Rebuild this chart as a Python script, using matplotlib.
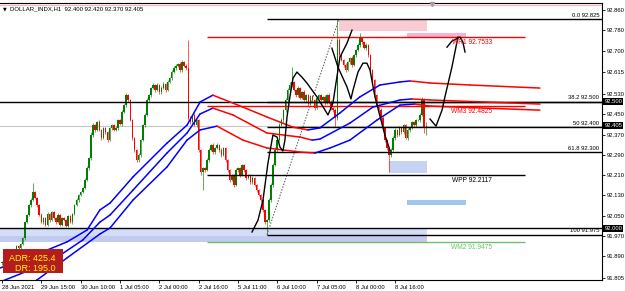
import matplotlib.pyplot as plt
import matplotlib.transforms as mtransforms
from matplotlib.patches import Rectangle

plt.rcParams['font.family'] = ['Liberation Sans', 'DejaVu Sans']

# --- H1 candles, bar 0 = 28 Jun 2021 ---
first_open = 91.862
closes = [
    91.868, 91.884, 91.876, 91.896, 91.907, 91.915, 91.907, 91.931, 91.923, 91.939,
    91.962, 92.025, 92.053, 92.092, 92.112, 92.144, 92.120, 92.092, 92.053, 92.025,
    92.041, 92.014, 92.057, 92.033, 92.065, 92.041, 92.025, 92.053, 92.014, 92.041,
    92.033, 92.010, 92.049, 92.025, 92.057, 92.092, 92.112, 92.132, 92.144, 92.159,
    92.191, 92.238, 92.277, 92.368, 92.407, 92.388, 92.419, 92.388, 92.356, 92.395,
    92.380, 92.348, 92.395, 92.407, 92.388, 92.395, 92.427, 92.411, 92.458, 92.486,
    92.525, 92.506, 92.427, 92.356, 92.309, 92.269, 92.289, 92.348, 92.407, 92.447,
    92.506, 92.525, 92.553, 92.565, 92.545, 92.565, 92.537, 92.553, 92.569, 92.545,
    92.577, 92.592, 92.616, 92.632, 92.640, 92.647, 92.624, 92.655, 92.640, 92.632,
    92.435, 92.419, 92.447, 92.407, 92.427, 92.309, 92.222, 92.238, 92.230, 92.269,
    92.309, 92.329, 92.301, 92.317, 92.329, 92.309, 92.289, 92.317, 92.269, 92.230,
    92.191, 92.210, 92.171, 92.230, 92.238, 92.210, 92.250, 92.230, 92.199, 92.210,
    92.183, 92.199, 92.171, 92.151, 92.132, 92.112, 92.073, 92.025, 92.033, 92.112,
    92.171, 92.250, 92.309, 92.348, 92.407, 92.427, 92.466, 92.506, 92.545, 92.565,
    92.577, 92.545, 92.525, 92.553, 92.514, 92.537, 92.506, 92.525, 92.490, 92.521,
    92.506, 92.474, 92.514, 92.525, 92.506, 92.518, 92.494, 92.525, 92.498, 92.474,
    92.466, 92.435, 92.742, 92.683, 92.663, 92.643, 92.624, 92.655, 92.671, 92.643,
    92.683, 92.703, 92.722, 92.750, 92.734, 92.710, 92.722, 92.683, 92.624, 92.584,
    92.525, 92.486, 92.466, 92.435, 92.395, 92.348, 92.317, 92.289, 92.309, 92.356,
    92.388, 92.368, 92.395, 92.380, 92.407, 92.356, 92.388, 92.395, 92.419, 92.407,
    92.427, 92.427, 92.447, 92.506, 92.400, 92.405,
]
# wick lengths above / below the body, in 0.001
wick_up = [
    4, 3, 5, 2, 4, 3, 6, 3, 4, 5,   6, 4, 5, 3, 8, 34, 5, 4, 3, 6,
    5, 4, 6, 3, 5, 4, 3, 6, 4, 5,   4, 6, 3, 5, 4, 5, 6, 4, 5, 6,
    6, 8, 5, 10, 8, 6, 5, 7, 4, 6,  5, 4, 6, 5, 4, 7, 5, 6, 8, 6,
    10, 6, 5, 4, 6, 5, 8, 6, 5, 7,  8, 6, 5, 7, 4, 6, 5, 7, 6, 5,
    6, 5, 7, 8, 6, 5, 7, 8, 6, 6,   110, 6, 5, 8, 6, 5, 4, 6, 5, 7,
    6, 5, 7, 4, 6, 5, 6, 4, 5, 6,   5, 6, 4, 7, 5, 6, 5, 4, 6, 5,
    4, 6, 5, 4, 6, 5, 4, 5, 6, 8,   8, 6, 10, 6, 7, 8, 6, 9, 8, 12,
    59, 5, 6, 8, 5, 6, 7, 5, 6, 5,  6, 5, 7, 5, 6, 4, 6, 5, 7, 6,
    6, 7, 83, 8, 6, 5, 7, 6, 5, 8,  6, 5, 7, 19, 6, 5, 8, 6, 5, 6,
    5, 6, 5, 7, 6, 5, 6, 4, 6, 7,   6, 5, 7, 5, 6, 5, 7, 6, 5, 6,
    6, 5, 8, 11, 6, 15,
]
wick_dn = [
    4, 5, 3, 6, 4, 5, 3, 5, 4, 6,   5, 6, 4, 5, 6, 4, 5, 6, 5, 4,
    6, 5, 4, 6, 5, 4, 6, 5, 4, 5,   5, 4, 6, 5, 7, 5, 4, 6, 5, 4,
    5, 6, 8, 6, 7, 8, 5, 6, 7, 5,   6, 8, 5, 6, 5, 6, 7, 5, 6, 5,
    6, 7, 5, 8, 6, 9, 7, 6, 5, 7,   5, 6, 7, 5, 6, 5, 7, 6, 5, 6,
    5, 6, 7, 5, 6, 5, 6, 7, 5, 6,   8, 6, 7, 5, 6, 8, 10, 71, 7, 5,
    6, 5, 7, 6, 5, 6, 7, 5, 6, 8,   7, 6, 8, 5, 6, 7, 5, 6, 8, 6,
    6, 7, 5, 8, 6, 7, 9, 8, 50, 7,  6, 7, 5, 6, 8, 5, 6, 7, 6, 5,
    6, 5, 7, 6, 5, 6, 5, 7, 6, 5,   6, 7, 5, 6, 5, 6, 7, 5, 6, 8,
    7, 36, 8, 6, 5, 7, 6, 5, 6, 7,  5, 6, 5, 7, 6, 5, 6, 7, 6, 8,
    7, 6, 8, 7, 6, 8, 7, 67, 6, 5,  6, 7, 5, 6, 8, 5, 6, 7, 5, 6,
    6, 5, 7, 6, 24, 30,
]

tick_bars = [0, 19, 38, 57, 76, 95, 114, 133, 152, 171, 190]
tick_text = ['28 Jun 2021', '29 Jun 15:00', '30 Jun 10:00', '1 Jul 05:00',
             '2 Jul 00:00', '2 Jul 16:00', '5 Jul 11:00', '6 Jul 10:00',
             '7 Jul 05:00', '8 Jul 00:00', '8 Jul 16:00']
price_ticks = [92.860, 92.780, 92.700, 92.615, 92.530, 92.450, 92.370,
               92.290, 92.210, 92.130, 92.050, 91.970, 91.890, 91.805]
marked_prices = [92.500, 92.405, 92.000]

# envelope bands (bar, price) - blue when rising, red when falling
upper_x = [-1.0, 15.0, 31.4, 41.1, 47.3, 52.2, 63.3, 79.7, 89.4, 95.7, 101.9,
           116.4, 128.0, 140.6, 147.8, 153.6, 163.3, 172.9, 182.6, 192.3,
           197.1, 206.8, 226.1, 259.9]
upper_y = [91.844, 91.892, 91.947, 91.994, 92.073, 92.100, 92.203, 92.336,
           92.407, 92.498, 92.525, 92.478, 92.439, 92.399, 92.388, 92.396,
           92.455, 92.518, 92.565, 92.577, 92.581, 92.573, 92.565, 92.553]
mid_x = [-1.0, 23.2, 39.1, 47.3, 52.2, 63.3, 79.7, 89.4, 95.7, 101.9, 111.6,
         128.0, 144.0, 149.8, 153.6, 168.1, 179.2, 192.3, 198.1, 206.8, 259.9]
mid_y = [91.789, 91.868, 91.955, 92.025, 92.053, 92.151, 92.297, 92.376,
         92.451, 92.474, 92.447, 92.376, 92.360, 92.348, 92.352, 92.415,
         92.478, 92.506, 92.510, 92.506, 92.490]
lower_x = [8.7, 16.9, 31.4, 47.3, 52.2, 63.3, 79.7, 89.4, 95.7, 103.9, 116.4,
           128.0, 144.0, 151.2, 158.5, 168.1, 181.2, 192.3, 199.5, 206.8, 259.9]
lower_y = [91.758, 91.797, 91.884, 91.978, 92.002, 92.112, 92.242, 92.348,
           92.388, 92.403, 92.348, 92.317, 92.301, 92.297, 92.317, 92.348,
           92.427, 92.486, 92.490, 92.482, 92.466]

# hand-drawn arrows
path1_x = [120.8, 123.7, 126.1, 128.5, 130.9, 132.9, 134.3, 135.7, 136.7, 137.7,
           139.1, 140.6, 142.5, 144.9, 147.3, 152.2, 157.5, 159.9, 161.8,
           163.3, 166.7, 169.1]
path1_y = [91.986, 92.033, 92.112, 92.258, 92.368, 92.360, 92.321, 92.305,
           92.348, 92.439, 92.518, 92.592, 92.616, 92.596, 92.573, 92.518,
           92.447, 92.494, 92.596, 92.675, 92.730, 92.781]
path2_x = [159.4, 162.3, 166.7, 168.6, 169.6, 172.0, 174.4, 176.3, 177.8,
           180.2, 183.1, 185.0, 187.4]
path2_y = [92.710, 92.636, 92.557, 92.510, 92.545, 92.616, 92.651, 92.651,
           92.624, 92.518, 92.427, 92.368, 92.309]
path3_x = [206.8, 209.7, 212.6, 214.0, 217.4, 220.3]
path3_y = [92.431, 92.403, 92.466, 92.518, 92.636, 92.754]
head_x = [215.0, 217.4, 221.3, 222.7, 223.7]
head_y = [92.714, 92.738, 92.754, 92.734, 92.695]

# fibonacci retracement (low 91.975 -> high 92.825)
fib_start = 128
fib_levels = [92.825, 92.500, 92.400, 92.300, 91.975]
fib_names = ['0.0', '38.2', '50', '61.8', '100']

# weekly pivot levels
pivot_start, pivot_end = 99, 252.7
pivot_prices = [92.7533, 92.4825, 92.2117, 91.9475]
pivot_names = ['WR1', 'WM3', 'WPP', 'WM2']
pivot_colors = ['#ff0000', '#ff0000', '#000000', '#6cc06c']

# shaded zones: start bar, end bar, low, high, colour
zone_x0 = [162.8, 195.7, 187.0, 195.7, -1.0, -1.0]
zone_x1 = [205.3, 224.2, 205.3, 224.2, 205.3, 205.3]
zone_lo = [92.777, 92.754, 92.218, 92.092, 91.946, 91.946]
zone_hi = [92.825, 92.769, 92.265, 92.112, 92.000, 91.972]
zone_col = ['#f9cbd3', '#f7b5d0', '#c6d3f5', '#a2c7ef', '#d3ddf8', '#c2caef']

X_MIN, X_MAX = -0.97, 289.9
Y_MIN, Y_MAX = 91.797, 92.888

fig = plt.figure(figsize=(6.25, 2.91), dpi=100)
ax = fig.add_axes([0, 11 / 291, 602 / 625, 277 / 291])
ax.set_xlim(X_MIN, X_MAX)
ax.set_ylim(Y_MIN, Y_MAX)

for x0, x1, lo, hi, c in zip(zone_x0, zone_x1, zone_lo, zone_hi, zone_col):
    ax.add_patch(Rectangle((x0, lo), x1 - x0, hi - lo, fc=c, ec='none', zorder=0))

# bid line and top pink line
ax.axhline(closes[-1], color='#c8c8c8', lw=0.8, zorder=1)
ax.axhline(92.880, color='#ffb0c0', lw=0.9, zorder=1)

# candles
opens = [first_open] + closes[:-1]
for i, (o, c) in enumerate(zip(opens, closes)):
    col = '#008000' if c >= o else '#ff0000'
    top, bot = max(o, c), min(o, c)
    ax.vlines(i, bot - wick_dn[i] / 1000, top + wick_up[i] / 1000,
              color=col, lw=0.6, alpha=0.75, zorder=2)
    ax.bar(i, max(top - bot, 0.002), bottom=bot, width=0.75,
           color=col, lw=0, zorder=2.5)

# round-number lines
ax.axhline(92.500, color='black', lw=1.0, zorder=3)
ax.axhline(92.000, color='black', lw=1.0, zorder=3)

# fib lines
for lvl, name in zip(fib_levels, fib_names):
    ax.hlines(lvl, fib_start, X_MAX, color='black', lw=1.0, zorder=3)
    ax.annotate(f'{name} {lvl:.3f}', (X_MAX, lvl), xytext=(-2, 1),
                textcoords='offset points', ha='right', va='bottom',
                fontsize=4.2, color='black', zorder=6)
ax.plot([fib_start, 162.8], [fib_levels[-1], fib_levels[0]], color='#555555',
        lw=0.7, ls=(0, (1.5, 1.5)), zorder=3)

# pivots
for p, n, c in zip(pivot_prices, pivot_names, pivot_colors):
    ax.hlines(p, pivot_start, pivot_end, color=c, lw=1.0, zorder=3)
    ax.annotate(f'{n} {p:.4f}', (227, p), xytext=(0, -1.5),
                textcoords='offset points', ha='center', va='top',
                fontsize=4.8, color=c, zorder=6)

# bands
for bx, by in [(upper_x, upper_y), (mid_x, mid_y), (lower_x, lower_y)]:
    for k in range(len(bx) - 1):
        col = '#0000ff' if by[k + 1] >= by[k] else '#ff0000'
        ax.plot(bx[k:k + 2], by[k:k + 2], color=col, lw=1.1,
                solid_capstyle='round', zorder=4)

# freehand arrows
for px, py in [(path1_x, path1_y), (path2_x, path2_y),
               (path3_x, path3_y), (head_x, head_y)]:
    ax.plot(px, py, color='black', lw=1.0, solid_joinstyle='round', zorder=5)

# axes styling
for s in ['left']:
    ax.spines[s].set_visible(False)
for s in ['right', 'bottom', 'top']:
    ax.spines[s].set_linewidth(0.8)

ax.yaxis.tick_right()
ax.set_yticks(price_ticks)
ax.set_yticklabels([f'{p:.3f}' for p in price_ticks])
ax.tick_params(axis='y', direction='out', length=2, width=0.6,
               labelsize=4.2, pad=1.5)
ax.set_xticks(tick_bars)
ax.set_xticklabels(tick_text)
ax.tick_params(axis='x', direction='out', length=2.5, width=0.6,
               labelsize=4.2, pad=1)
for lbl in ax.get_xticklabels():
    lbl.set_ha('left')

trans = mtransforms.blended_transform_factory(ax.transAxes, ax.transData)
for p in marked_prices:
    ax.text(1.004, p, f'{p:.3f}', transform=trans, fontsize=4.2, color='white',
            va='center', ha='left', clip_on=False,
            bbox=dict(boxstyle='square,pad=0.2', fc='black', ec='none'))

# header and ADR box
ax.text(0.005, 0.978, '\u25bc', transform=ax.transAxes, fontsize=3.5,
        va='center', ha='left', family=['DejaVu Sans'])
ax.text(0.017, 0.978, 'DOLLAR_INDX,H1  92.400 92.420 92.370 92.405',
        transform=ax.transAxes, fontsize=4.3, va='center', ha='left')
ax.plot([207.7], [92.884], marker='v', ms=3, color='#a0a0a0', clip_on=False,
        zorder=6)
ax.add_patch(Rectangle((0.005, 0.025), 0.1, 0.087, transform=ax.transAxes,
                       fc='#b51c1c', ec='none', zorder=6))
ax.text(0.092, 0.076, 'ADR: 425.4', transform=ax.transAxes, fontsize=6.5,
        color='#ffff00', ha='right', va='center', zorder=7)
ax.text(0.092, 0.040, 'DR: 195.0', transform=ax.transAxes, fontsize=6.5,
        color='#ffff00', ha='right', va='center', zorder=7)

fig.savefig('out.png', dpi=100, facecolor='white')
